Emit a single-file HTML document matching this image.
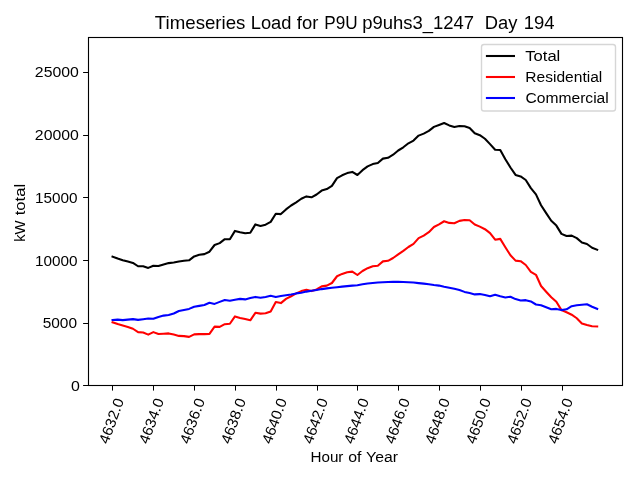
<!DOCTYPE html>
<html><head><meta charset="utf-8"><title>Timeseries Load</title>
<style>html,body{margin:0;padding:0;background:#fff;}svg{display:block;will-change:transform;}text{font-family:"Liberation Sans",sans-serif;fill:#000;}</style>
</head><body>
<svg width="640" height="480" viewBox="0 0 640 480">
<rect x="0" y="0" width="640" height="480" fill="#ffffff"/>
<polyline fill="none" stroke="#000000" stroke-width="2.08" stroke-linejoin="round" stroke-linecap="square" points="112.55,256.60 117.65,258.50 122.75,260.25 127.85,261.50 132.96,262.90 138.06,266.25 143.16,266.25 148.26,267.90 153.36,265.75 158.46,266.00 163.56,264.40 168.66,263.10 173.77,262.50 178.87,261.50 183.97,260.80 189.07,260.30 194.17,256.40 199.27,254.80 204.37,254.10 209.47,251.70 214.58,245.00 219.68,243.10 224.78,239.20 229.88,239.20 234.98,230.90 240.08,232.20 245.18,233.30 250.29,232.80 255.39,224.40 260.49,225.90 265.59,224.70 270.69,221.90 275.79,213.75 280.89,214.10 285.99,209.40 291.10,205.50 296.20,202.30 301.30,198.75 306.40,196.40 311.50,197.30 316.60,194.50 321.70,190.60 326.80,189.10 331.91,185.90 337.01,178.10 342.11,175.30 347.21,173.10 352.31,171.90 357.41,175.00 362.51,170.20 367.62,166.40 372.72,164.10 377.82,163.00 382.92,158.60 388.02,157.80 393.12,154.70 398.22,150.50 403.32,147.30 408.43,143.30 413.53,140.60 418.63,135.60 423.73,133.60 428.83,130.90 433.93,126.90 439.03,125.00 444.13,123.00 449.24,125.40 454.34,126.90 459.44,126.00 464.54,126.25 469.64,128.10 474.74,133.30 479.84,135.20 484.94,138.75 490.05,144.10 495.15,149.70 500.25,150.00 505.35,159.30 510.45,167.50 515.55,174.90 520.65,176.40 525.76,180.00 530.86,188.10 535.96,194.40 541.06,205.20 546.16,213.10 551.26,220.80 556.36,225.60 561.46,233.90 566.57,236.00 571.67,235.60 576.77,238.10 581.87,242.50 586.97,244.00 592.07,247.75 597.17,249.75"/>
<polyline fill="none" stroke="#ff0000" stroke-width="2.08" stroke-linejoin="round" stroke-linecap="square" points="112.55,322.25 117.65,324.00 122.75,325.40 127.85,326.90 132.96,328.75 138.06,332.10 143.16,332.50 148.26,334.60 153.36,332.10 158.46,334.00 163.56,333.75 168.66,333.40 173.77,334.60 178.87,335.90 183.97,336.10 189.07,336.90 194.17,334.40 199.27,334.10 204.37,334.10 209.47,333.90 214.58,326.60 219.68,326.90 224.78,324.20 229.88,323.75 234.98,316.40 240.08,318.00 245.18,319.10 250.29,320.30 255.39,312.80 260.49,313.60 265.59,313.30 270.69,311.50 275.79,302.10 280.89,303.10 285.99,298.90 291.10,296.25 296.20,293.40 301.30,291.10 306.40,289.80 311.50,291.10 316.60,289.50 321.70,286.40 326.80,285.60 331.91,283.00 337.01,276.25 342.11,273.90 347.21,272.30 352.31,271.60 357.41,275.00 362.51,271.00 367.62,268.20 372.72,266.25 377.82,265.80 382.92,261.40 388.02,260.80 393.12,258.00 398.22,254.40 403.32,250.90 408.43,247.00 413.53,243.90 418.63,238.10 423.73,235.60 428.83,232.20 433.93,227.00 439.03,224.40 444.13,221.25 449.24,222.90 454.34,223.20 459.44,220.85 464.54,220.00 469.64,220.20 474.74,224.50 479.84,226.60 484.94,229.20 490.05,233.10 495.15,239.70 500.25,238.90 505.35,247.20 510.45,255.30 515.55,260.60 520.65,261.20 525.76,265.00 530.86,271.80 535.96,274.80 541.06,286.00 546.16,291.70 551.26,297.20 556.36,301.80 561.46,310.10 566.57,312.30 571.67,314.70 576.77,318.25 581.87,323.40 586.97,325.00 592.07,326.20 597.17,326.40"/>
<polyline fill="none" stroke="#0000ff" stroke-width="2.08" stroke-linejoin="round" stroke-linecap="square" points="112.55,320.00 117.65,319.60 122.75,320.10 127.85,319.60 132.96,319.10 138.06,319.90 143.16,319.25 148.26,318.50 153.36,318.75 158.46,316.90 163.56,315.60 168.66,315.00 173.77,313.50 178.87,311.00 183.97,310.00 189.07,308.90 194.17,306.70 199.27,305.90 204.37,305.00 209.47,302.80 214.58,303.90 219.68,301.90 224.78,300.00 229.88,300.80 234.98,299.70 240.08,298.90 245.18,299.40 250.29,298.10 255.39,296.90 260.49,297.80 265.59,296.90 270.69,295.70 275.79,296.90 280.89,296.00 285.99,295.30 291.10,294.50 296.20,293.40 301.30,292.70 306.40,291.60 311.50,290.80 316.60,290.00 321.70,289.10 326.80,288.40 331.91,287.70 337.01,287.20 342.11,286.60 347.21,286.10 352.31,285.60 357.41,285.20 362.51,284.25 367.62,283.50 372.72,283.00 377.82,282.50 382.92,282.20 388.02,282.00 393.12,281.90 398.22,281.90 403.32,282.00 408.43,282.20 413.53,282.50 418.63,283.10 423.73,283.60 428.83,284.20 433.93,285.00 439.03,285.60 444.13,286.75 449.24,287.75 454.34,288.75 459.44,290.00 464.54,291.90 469.64,293.10 474.74,294.40 479.84,294.10 484.94,295.00 490.05,296.25 495.15,294.70 500.25,296.25 505.35,297.50 510.45,296.70 515.55,299.10 520.65,300.45 525.76,300.15 530.86,301.40 535.96,304.50 541.06,305.30 546.16,307.30 551.26,309.20 556.36,308.90 561.46,310.10 566.57,309.30 571.67,306.20 576.77,305.30 581.87,304.70 586.97,304.30 592.07,306.80 597.17,308.90"/>
<rect x="88.50" y="37.50" width="534.00" height="348.00" fill="none" stroke="#000" stroke-width="1.11"/>
<line x1="83.10" y1="385.50" x2="88.50" y2="385.50" stroke="#000" stroke-width="1"/>
<line x1="83.10" y1="323.50" x2="88.50" y2="323.50" stroke="#000" stroke-width="1"/>
<line x1="83.10" y1="260.50" x2="88.50" y2="260.50" stroke="#000" stroke-width="1"/>
<line x1="83.10" y1="197.50" x2="88.50" y2="197.50" stroke="#000" stroke-width="1"/>
<line x1="83.10" y1="135.50" x2="88.50" y2="135.50" stroke="#000" stroke-width="1"/>
<line x1="83.10" y1="72.50" x2="88.50" y2="72.50" stroke="#000" stroke-width="1"/>
<line x1="112.50" y1="385.50" x2="112.50" y2="390.60" stroke="#000" stroke-width="1"/>
<text transform="translate(112.55,421.30) rotate(-70)" x="0" y="3.80" font-size="14.70" text-anchor="middle" textLength="47.10" lengthAdjust="spacingAndGlyphs">4632.0</text>
<line x1="153.50" y1="385.50" x2="153.50" y2="390.60" stroke="#000" stroke-width="1"/>
<text transform="translate(152.55,421.30) rotate(-70)" x="0" y="3.80" font-size="14.70" text-anchor="middle" textLength="47.10" lengthAdjust="spacingAndGlyphs">4634.0</text>
<line x1="194.50" y1="385.50" x2="194.50" y2="390.60" stroke="#000" stroke-width="1"/>
<text transform="translate(193.55,421.30) rotate(-70)" x="0" y="3.80" font-size="14.70" text-anchor="middle" textLength="47.10" lengthAdjust="spacingAndGlyphs">4636.0</text>
<line x1="235.50" y1="385.50" x2="235.50" y2="390.60" stroke="#000" stroke-width="1"/>
<text transform="translate(234.55,421.30) rotate(-70)" x="0" y="3.80" font-size="14.70" text-anchor="middle" textLength="47.10" lengthAdjust="spacingAndGlyphs">4638.0</text>
<line x1="276.50" y1="385.50" x2="276.50" y2="390.60" stroke="#000" stroke-width="1"/>
<text transform="translate(275.55,421.30) rotate(-70)" x="0" y="3.80" font-size="14.70" text-anchor="middle" textLength="47.10" lengthAdjust="spacingAndGlyphs">4640.0</text>
<line x1="317.50" y1="385.50" x2="317.50" y2="390.60" stroke="#000" stroke-width="1"/>
<text transform="translate(316.55,421.30) rotate(-70)" x="0" y="3.80" font-size="14.70" text-anchor="middle" textLength="47.10" lengthAdjust="spacingAndGlyphs">4642.0</text>
<line x1="357.50" y1="385.50" x2="357.50" y2="390.60" stroke="#000" stroke-width="1"/>
<text transform="translate(357.55,421.30) rotate(-70)" x="0" y="3.80" font-size="14.70" text-anchor="middle" textLength="47.10" lengthAdjust="spacingAndGlyphs">4644.0</text>
<line x1="398.50" y1="385.50" x2="398.50" y2="390.60" stroke="#000" stroke-width="1"/>
<text transform="translate(398.55,421.30) rotate(-70)" x="0" y="3.80" font-size="14.70" text-anchor="middle" textLength="47.10" lengthAdjust="spacingAndGlyphs">4646.0</text>
<line x1="439.50" y1="385.50" x2="439.50" y2="390.60" stroke="#000" stroke-width="1"/>
<text transform="translate(438.55,421.30) rotate(-70)" x="0" y="3.80" font-size="14.70" text-anchor="middle" textLength="47.10" lengthAdjust="spacingAndGlyphs">4648.0</text>
<line x1="480.50" y1="385.50" x2="480.50" y2="390.60" stroke="#000" stroke-width="1"/>
<text transform="translate(479.55,421.30) rotate(-70)" x="0" y="3.80" font-size="14.70" text-anchor="middle" textLength="47.10" lengthAdjust="spacingAndGlyphs">4650.0</text>
<line x1="521.50" y1="385.50" x2="521.50" y2="390.60" stroke="#000" stroke-width="1"/>
<text transform="translate(520.55,421.30) rotate(-70)" x="0" y="3.80" font-size="14.70" text-anchor="middle" textLength="47.10" lengthAdjust="spacingAndGlyphs">4652.0</text>
<line x1="562.50" y1="385.50" x2="562.50" y2="390.60" stroke="#000" stroke-width="1"/>
<text transform="translate(561.55,421.30) rotate(-70)" x="0" y="3.80" font-size="14.70" text-anchor="middle" textLength="47.10" lengthAdjust="spacingAndGlyphs">4654.0</text>
<g transform="translate(24.7,241.8) rotate(-90)">
<text x="0.00" y="0" font-size="14.70" textLength="21.40" lengthAdjust="spacingAndGlyphs">kW</text>
<text x="26.50" y="0" font-size="14.70" textLength="31.40" lengthAdjust="spacingAndGlyphs">total</text>
</g>
<rect x="481.5" y="44.5" width="134.0" height="66.5" rx="2.6" ry="2.6" fill="#ffffff" fill-opacity="0.8" stroke="#cccccc" stroke-opacity="0.8" stroke-width="1.39"/>
<line x1="485.9" y1="56.00" x2="515.0" y2="56.00" stroke="#000000" stroke-width="2.08"/>
<line x1="485.9" y1="77.00" x2="515.0" y2="77.00" stroke="#ff0000" stroke-width="2.08"/>
<line x1="485.9" y1="98.00" x2="515.0" y2="98.00" stroke="#0000ff" stroke-width="2.08"/>
<text x="154.85" y="28.80" font-size="17.66" textLength="90.61" lengthAdjust="spacingAndGlyphs">Timeseries</text>
<text x="250.71" y="28.80" font-size="17.66" textLength="40.72" lengthAdjust="spacingAndGlyphs">Load</text>
<text x="296.86" y="28.80" font-size="17.66" textLength="21.49" lengthAdjust="spacingAndGlyphs">for</text>
<text x="324.27" y="28.80" font-size="17.66" textLength="33.35" lengthAdjust="spacingAndGlyphs">P9U</text>
<text x="362.22" y="28.80" font-size="17.66" textLength="111.93" lengthAdjust="spacingAndGlyphs">p9uhs3_1247</text>
<text x="484.85" y="28.80" font-size="17.66" textLength="32.63" lengthAdjust="spacingAndGlyphs">Day</text>
<text x="523.68" y="28.80" font-size="17.66" textLength="30.84" lengthAdjust="spacingAndGlyphs">194</text>
<text x="71.09" y="390.60" font-size="14.70" textLength="8.86" lengthAdjust="spacingAndGlyphs">0</text>
<text x="42.65" y="327.80" font-size="14.70" textLength="34.37" lengthAdjust="spacingAndGlyphs">5000</text>
<text x="34.92" y="265.60" font-size="14.70" textLength="42.61" lengthAdjust="spacingAndGlyphs">10000</text>
<text x="34.92" y="202.60" font-size="14.70" textLength="42.61" lengthAdjust="spacingAndGlyphs">15000</text>
<text x="34.87" y="139.90" font-size="14.70" textLength="44.00" lengthAdjust="spacingAndGlyphs">20000</text>
<text x="34.87" y="76.90" font-size="14.70" textLength="44.00" lengthAdjust="spacingAndGlyphs">25000</text>
<text x="310.47" y="462.00" font-size="14.70" textLength="32.95" lengthAdjust="spacingAndGlyphs">Hour</text>
<text x="348.26" y="462.00" font-size="14.70" textLength="13.24" lengthAdjust="spacingAndGlyphs">of</text>
<text x="366.10" y="462.00" font-size="14.70" textLength="31.87" lengthAdjust="spacingAndGlyphs">Year</text>
<text x="525.24" y="60.70" font-size="14.70" textLength="35.08" lengthAdjust="spacingAndGlyphs">Total</text>
<text x="525.33" y="81.50" font-size="14.70" textLength="76.96" lengthAdjust="spacingAndGlyphs">Residential</text>
<text x="525.46" y="102.60" font-size="14.70" textLength="83.31" lengthAdjust="spacingAndGlyphs">Commercial</text>
</svg>
</body></html>
